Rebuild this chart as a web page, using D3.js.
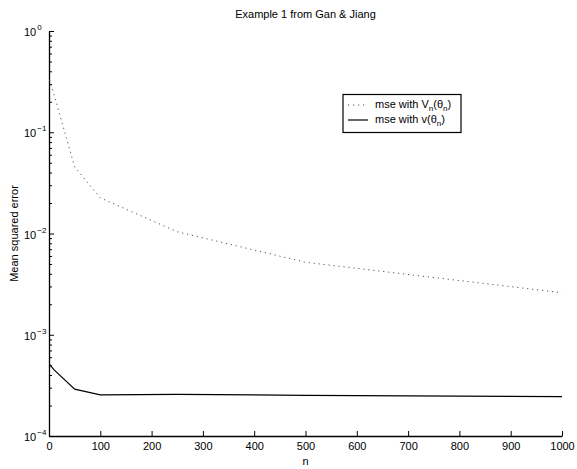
<!DOCTYPE html>
<html>
<head>
<meta charset="utf-8">
<script src="https://cdn.jsdelivr.net/npm/d3@7"></script>
<style>
  body { margin: 0; background: #fff; }
  text { font-family: "Liberation Sans", Arial, sans-serif; }
</style>
</head>
<body>
<svg id="chart" width="577" height="469"></svg>
<script>
// sample sizes and the two error curves
const nValues = [1, 10, 50, 100, 250, 500, 1000];
const mseVn = [0.33, 0.233, 0.0454, 0.0225, 0.0104, 0.0052, 0.0026];
const mseV = [5.1e-4, 4.5e-4, 2.9e-4, 2.55e-4, 2.58e-4, 2.52e-4, 2.45e-4];

const xTicks = [0, 100, 200, 300, 400, 500, 600, 700, 800, 900, 1000];
const yExponents = [0, -1, -2, -3, -4];

const svg = d3.select("#chart");
const plotLeft = 49, plotRight = 562, plotTop = 31, plotBottom = 436;

const x = d3.scaleLinear().domain([0, 1000]).range([plotLeft, plotRight]);
const y = d3.scaleLog().domain([1e-4, 1]).range([plotBottom, plotTop]);

// minor ticks 2..9 x 10^k
const minorTicks = [];
for (let k = -4; k < 0; k++) {
    for (let m = 2; m <= 9; m++) minorTicks.push(m * Math.pow(10, k));
}

// y axis, ticks pointing inward like matlab
svg.append("g")
    .attr("transform", `translate(${plotLeft},0)`)
    .call(d3.axisLeft(y).tickValues(minorTicks).tickSizeInner(-3).tickSizeOuter(0).tickFormat(""))
    .call(g => g.select(".domain").remove());

svg.append("g")
    .attr("transform", `translate(${plotLeft},0)`)
    .call(d3.axisLeft(y).tickValues(yExponents.map(e => Math.pow(10, e))).tickSizeInner(-5).tickSizeOuter(0).tickFormat(""))
    .call(g => g.select(".domain").attr("stroke-width", 1.3));

// y tick labels with superscript
const yLab = svg.append("g").selectAll("text")
    .data(yExponents)
    .enter().append("text")
    .attr("x", 24)
    .attr("y", d => y(Math.pow(10, d)) + 5)
    .attr("font-size", "11px")
    .attr("fill", "#000");
yLab.append("tspan").text("10");
yLab.append("tspan")
    .attr("dy", -6)
    .attr("dx", 1)
    .attr("font-size", "8px")
    .text(d => d === 0 ? "0" : "\u2212" + Math.abs(d));

// x axis
svg.append("g")
    .attr("transform", `translate(0,${plotBottom})`)
    .call(d3.axisBottom(x).tickValues(xTicks).tickSizeInner(-5).tickSizeOuter(0).tickPadding(6).tickFormat(d3.format("d")))
    .call(g => g.select(".domain").attr("stroke-width", 1.3))
    .call(g => g.selectAll("text")
        .attr("font-size", "11px")
        .attr("font-family", "Liberation Sans, Arial, sans-serif")
        .attr("fill", "#000"));

// lines
const line = d3.line().x(d => x(d[0])).y(d => y(d[1]));

svg.append("path")
    .datum(nValues.map((n, i) => [n, mseVn[i]]))
    .attr("d", line)
    .attr("fill", "none")
    .attr("stroke", "#555")
    .attr("stroke-width", 1)
    .attr("stroke-dasharray", "1.2,3.8");

svg.append("path")
    .datum(nValues.map((n, i) => [n, mseV[i]]))
    .attr("d", line)
    .attr("fill", "none")
    .attr("stroke", "#000")
    .attr("stroke-width", 1.2);

// title and axis labels
svg.append("text")
    .attr("x", (plotLeft + plotRight) / 2)
    .attr("y", 18)
    .attr("text-anchor", "middle")
    .attr("font-size", "11px")
    .text("Example 1 from Gan & Jiang");

svg.append("text")
    .attr("x", (plotLeft + plotRight) / 2)
    .attr("y", 465)
    .attr("text-anchor", "middle")
    .attr("font-size", "11px")
    .text("n");

svg.append("text")
    .attr("transform", `translate(18,${(plotTop + plotBottom) / 2}) rotate(-90)`)
    .attr("text-anchor", "middle")
    .attr("font-size", "11px")
    .text("Mean squared error");

// legend
const legend = svg.append("g").attr("class", "legend");
legend.append("rect")
    .attr("x", 343)
    .attr("y", 94.5)
    .attr("width", 118)
    .attr("height", 38)
    .attr("fill", "#fff")
    .attr("stroke", "#000")
    .attr("stroke-width", 1.2);

const entries = [
    { dash: "1.2,3.8", stroke: "#555", main: "mse with V", sub1: "n", mid: "(\u03b8", sub2: "n", end: ")" },
    { dash: null, stroke: "#000", main: "mse with v", sub1: null, mid: "(\u03b8", sub2: "n", end: ")" }
];

entries.forEach((e, i) => {
    const yy = 105 + i * 15;
    legend.append("line")
        .attr("x1", 348).attr("x2", 368)
        .attr("y1", yy).attr("y2", yy)
        .attr("stroke", e.stroke)
        .attr("stroke-width", e.dash ? 1 : 1.2)
        .attr("stroke-dasharray", e.dash);
    const t = legend.append("text")
        .attr("x", 375)
        .attr("y", yy + 3)
        .attr("font-size", "11px");
    t.append("tspan").text(e.main);
    if (e.sub1) {
        t.append("tspan").attr("dy", 3).attr("font-size", "8px").text(e.sub1);
        t.append("tspan").attr("dy", -3).text(e.mid);
    } else {
        t.append("tspan").text(e.mid);
    }
    t.append("tspan").attr("dy", 3).attr("font-size", "8px").text(e.sub2);
    t.append("tspan").attr("dy", -3).text(e.end);
});
</script>
</body>
</html>
